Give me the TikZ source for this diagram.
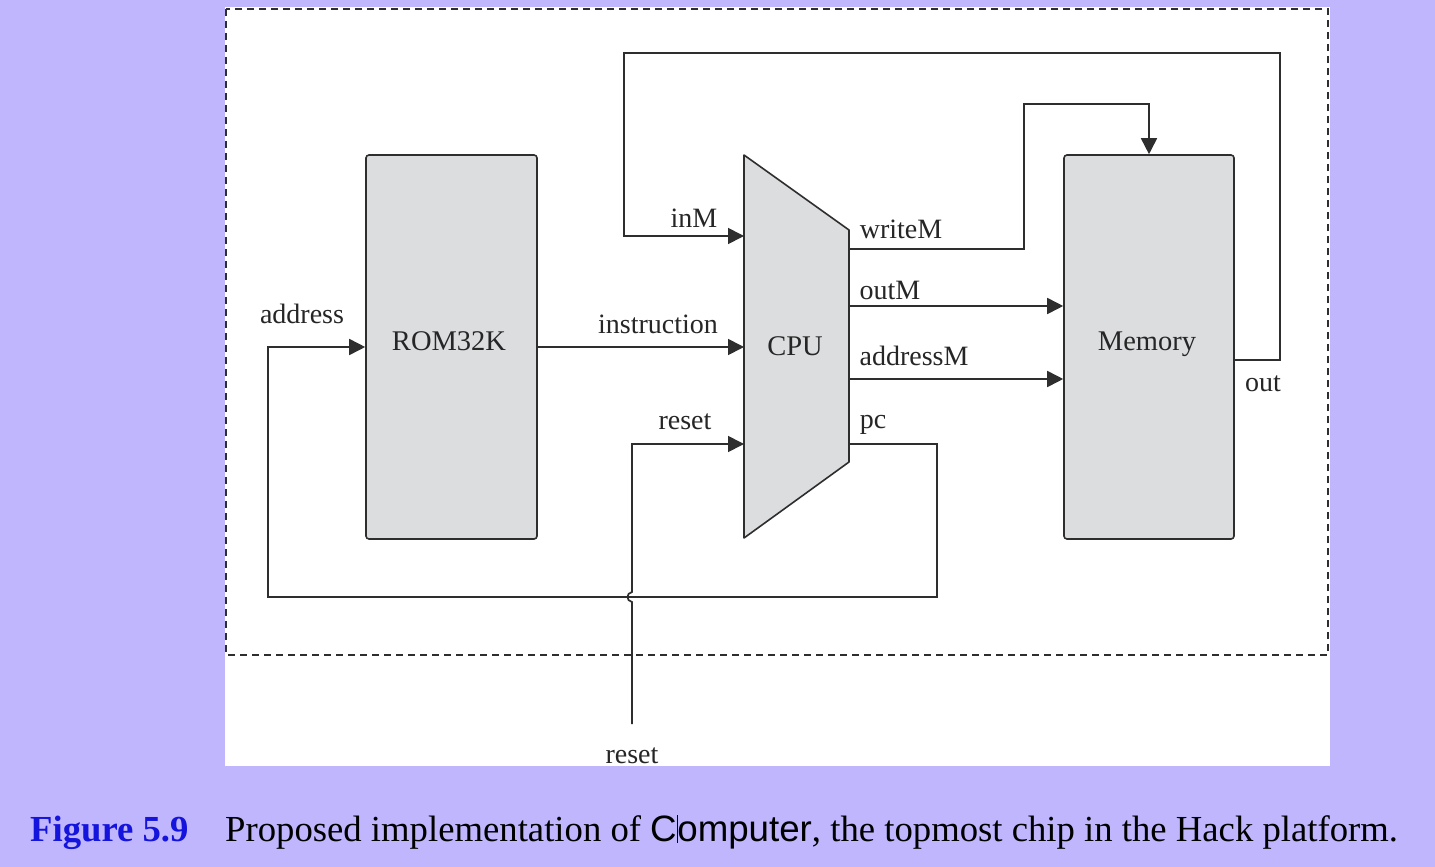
\documentclass[tikz,border=0pt]{standalone}
\usepackage{fontspec}
\setmainfont{Liberation Serif}
\newfontfamily\capsans{Liberation Sans}
\usetikzlibrary{arrows.meta}
\definecolor{bglav}{HTML}{C0B6FD}
\definecolor{chipfill}{HTML}{DCDDDF}
\definecolor{wire}{HTML}{2E2E2E}
\definecolor{figblue}{HTML}{1414DC}
\tikzset{
  wireline/.style={draw=wire, line width=1.7pt},
  arr/.style={wireline, -{Triangle[length=16pt,width=16pt]}},
  chip/.style={draw=wire, line width=1.6pt, fill=chipfill, rounded corners=3pt, inner sep=0pt},
  lbl/.style={font=\fontsize{28}{30}\selectfont, text=black!85, anchor=base, inner sep=0pt},
  chiplbl/.style={font=\fontsize{28.5}{30}\selectfont, text=black!85, anchor=base, inner sep=0pt},
}
\begin{document}
\begin{tikzpicture}[x=1pt,y=-1pt]
\useasboundingbox (0,0) rectangle (1435,867);
\fill[bglav] (0,0) rectangle (1435,867);
\fill[white] (225,7) rectangle (1330,766);
\draw[wire, line width=1.5pt, dash pattern=on 7pt off 5pt] (226,9) rectangle (1328,655);

% chips
\node[chip, minimum width=171pt, minimum height=384pt] (rom) at (451.5,347) {};
\node[chip, minimum width=170pt, minimum height=384pt] (mem) at (1149,347) {};
\coordinate (cpuTL) at (744,155);
\coordinate (cpuTR) at (849,230);
\coordinate (cpuBR) at (849,462);
\coordinate (cpuBL) at (744,538);
\filldraw[fill=chipfill, draw=wire, line width=1.6pt, line join=round] (cpuTL) -- (cpuTR) -- (cpuBR) -- (cpuBL) -- cycle;

\node[chiplbl] (romtxt) at (449,350) {ROM32K};
\node[chiplbl] (memtxt) at (1147,350) {Memory};
\node[chiplbl] (cputxt) at (795,355) {CPU};

% CPU ports
\coordinate (inMin) at (744,236);
\coordinate (instrin) at (744,347);
\coordinate (resetin) at (744,444);
\coordinate (writeMout) at (849,249);
\coordinate (outMout) at (849,306);
\coordinate (addrMout) at (849,379);
\coordinate (pcout) at (849,444);
\coordinate (memout) at (1234,360);

% instruction
\draw[arr] (rom.east |- instrin) -- (instrin);
% outM, addressM
\draw[arr] (outMout) -- (outMout -| mem.west);
\draw[arr] (addrMout) -- (addrMout -| mem.west);
% writeM
\coordinate (wA) at (1024,249);
\coordinate (wB) at (1024,104);
\draw[arr] (writeMout) -- (wA) -- (wB) -- (wB -| mem.north) -- (mem.north);
% out -> inM
\coordinate (oA) at (1280,360);
\coordinate (oB) at (1280,53);
\coordinate (oC) at (624,53);
\draw[arr] (memout) -- (oA) -- (oB) -- (oC) -- (oC |- inMin) -- (inMin);
% pc -> address
\coordinate (pA) at (937,444);
\coordinate (pB) at (937,597);
\coordinate (pC) at (268,597);
\draw[arr] (pcout) -- (pA) -- (pB) -- (pC) -- (pC |- instrin) -- (rom.west |- instrin);
% reset
\coordinate (rBot) at (632,724);
\coordinate (rHopLo) at (632,602);
\coordinate (rHopHi) at (632,592);
\coordinate (rTop) at (632,444);
\draw[arr] (rBot) -- (rHopLo) .. controls (626,601) and (626,593) .. (rHopHi) -- (rTop) -- (resetin);

% labels
\node[lbl] (linM) at (694,227) {inM};
\node[lbl] (lwriteM) at (901,238) {writeM};
\node[lbl] (loutM) at (890,299) {outM};
\node[lbl] (laddrM) at (914,365) {addressM};
\node[lbl] (lpc) at (873,428) {pc};
\node[lbl] (linstr) at (658,333) {instruction};
\node[lbl] (lreset) at (685,429) {reset};
\node[lbl] (laddr) at (302,323) {address};
\node[lbl] (lout) at (1263,391) {out};
\node[lbl] (lresetb) at (632,763) {reset};

% caption
\node[anchor=base west, inner sep=0pt, font=\fontsize{36.7}{40}\selectfont\bfseries, text=figblue] (figno) at (30,841) {Figure 5.9};
\node[anchor=base west, inner sep=0pt, font=\fontsize{36.7}{40}\selectfont, text=black] (captxt) at (225,841) {Proposed implementation of {\capsans C\rule[-0.05em]{0.6pt}{0.75em}omputer}, the topmost chip in the Hack platform.};
\end{tikzpicture}
\end{document}
